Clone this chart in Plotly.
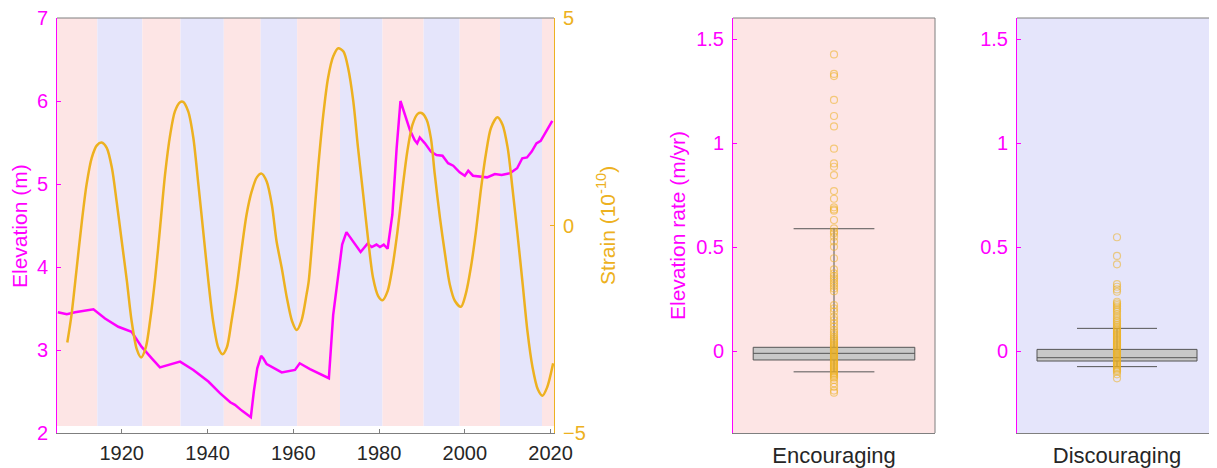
import plotly.graph_objects as go

# ---------------- data ----------------
elev_years = [1905.1, 1907.2, 1909.1, 1911.4, 1913.4, 1916.1, 1919.2, 1922.3, 1924.6, 1927.0,
              1928.9, 1933.6, 1936.7, 1940.2, 1942.9, 1945.3, 1946.4, 1948.0, 1950.1, 1950.8,
              1951.6, 1952.5, 1953.0, 1953.8, 1957.3, 1960.4, 1961.5, 1963.9, 1968.3, 1969.3,
              1970.5, 1971.4, 1972.4, 1974.0, 1975.7, 1977.3, 1978.3, 1979.4, 1980.2, 1981.1,
              1982.0, 1983.1, 1984.1, 1985.0, 1986.0, 1987.2, 1988.3, 1988.9, 1989.5, 1990.7,
              1992.1, 1993.4, 1994.8, 1996.1, 1997.3, 1998.8, 2000.0, 2000.8, 2001.9, 2003.5,
              2005.2, 2007.0, 2008.6, 2010.5, 2012.2, 2013.4, 2014.5, 2015.6, 2016.7, 2017.7,
              2019.0, 2020.4]
elev_m = [3.455, 3.43, 3.455, 3.47, 3.49, 3.38, 3.28, 3.22, 3.04, 2.90,
          2.79, 2.86, 2.76, 2.62, 2.48, 2.37, 2.34, 2.27, 2.19, 2.50,
          2.78, 2.93, 2.90, 2.83, 2.73, 2.76, 2.84, 2.77, 2.66, 3.42,
          3.92, 4.27, 4.42, 4.31, 4.18, 4.28, 4.24, 4.27, 4.24, 4.27,
          4.22, 4.63, 5.43, 6.00, 5.83, 5.65, 5.53, 5.49, 5.56, 5.49,
          5.39, 5.35, 5.34, 5.25, 5.22, 5.14, 5.10, 5.16, 5.10, 5.09,
          5.08, 5.12, 5.11, 5.13, 5.19, 5.31, 5.32, 5.39, 5.49, 5.52,
          5.63, 5.76]

strain_years = [1907.3, 1908.3, 1909.5, 1910.7, 1911.8, 1913.0, 1914.2, 1915.3, 1916.5, 1917.7,
                1918.8, 1920.0, 1921.2, 1922.3, 1923.5, 1924.5, 1925.6, 1926.6, 1927.8, 1929.0,
                1930.1, 1931.3, 1932.4, 1933.6, 1934.3, 1935.5, 1936.7, 1937.8, 1939.0, 1940.2,
                1941.3, 1942.5, 1943.5, 1944.5, 1945.6, 1946.8, 1948.0, 1949.1, 1950.3, 1951.5,
                1952.6, 1953.8, 1955.0, 1956.1, 1957.3, 1958.5, 1959.7, 1960.8, 1961.9, 1963.1,
                1963.6, 1964.6, 1965.8, 1967.0, 1968.1, 1969.3, 1970.5, 1971.7, 1972.8, 1974.0,
                1975.1, 1976.3, 1977.5, 1978.6, 1979.8, 1980.8, 1982.0, 1983.1, 1984.3, 1985.5,
                1986.6, 1987.8, 1989.0, 1989.9, 1991.1, 1992.1, 1993.0, 1994.2, 1995.4, 1996.5,
                1997.7, 1999.1, 2000.2, 2001.4, 2002.6, 2003.7, 2004.9, 2006.1, 2007.6, 2008.8,
                2010.0, 2011.1, 2012.3, 2013.5, 2014.6, 2015.8, 2017.0, 2018.1, 2019.2, 2020.6]
strain_vals = [-2.82, -2.14, -1.02, 0.10, 0.99, 1.63, 1.93, 2.00, 1.87, 1.39,
               0.58, -0.38, -1.34, -2.30, -2.98, -3.18, -2.94, -2.30, -1.26, 0.02,
               1.23, 2.19, 2.75, 2.97, 2.98, 2.75, 2.11, 1.06, -0.14, -1.34,
               -2.30, -2.94, -3.10, -2.94, -2.30, -1.50, -0.54, 0.26, 0.82, 1.16,
               1.25, 1.06, 0.50, -0.38, -1.02, -1.74, -2.30, -2.52, -2.30, -1.66,
               -1.34, -0.14, 1.39, 2.67, 3.55, 4.07, 4.27, 4.19, 3.79, 2.99,
               1.87, 0.75, -0.38, -1.26, -1.70, -1.80, -1.58, -1.02, -0.14, 0.91,
               1.79, 2.43, 2.69, 2.71, 2.55, 2.10, 1.23, 0.19, -0.70, -1.42,
               -1.82, -1.96, -1.66, -1.02, -0.14, 0.82, 1.71, 2.35, 2.61, 2.43,
               1.87, 0.91, -0.22, -1.42, -2.54, -3.42, -3.94, -4.10, -3.90, -3.32]

# alternating phase bands (pink = encouraging, blue = discouraging)
band_edges = [1904.9, 1914.3, 1924.8, 1933.7, 1943.8, 1952.4, 1960.9, 1970.9,
              1980.8, 1990.4, 1998.8, 2008.2, 2018.0, 2020.8]

year_ticks = [1920, 1940, 1960, 1980, 2000, 2020]
elev_ticks = [2, 3, 4, 5, 6, 7]
strain_ticks = [-5, 0, 5]
rate_ticks = [0, 0.5, 1, 1.5]
rate_tick_labels = ["0", "0.5", "1", "1.5"]

categories = ["Encouraging", "Discouraging"]
box_q1 = [-0.043, -0.048]
box_median = [-0.011, -0.032]
box_q3 = [0.018, 0.008]
box_lower = [-0.100, -0.075]
box_upper = [0.588, 0.109]

enc_rates = [1.426, 1.332, 1.322, 1.207, 1.130, 1.080, 0.973, 0.902, 0.886, 0.846,
             0.769, 0.732, 0.691, 0.681, 0.675, 0.630, 0.590, 0.574, 0.566, 0.550,
             0.526, 0.501, 0.446, 0.393, 0.373, 0.360, 0.349, 0.337, 0.325, 0.313,
             0.301, 0.288, 0.221, 0.205, 0.189, 0.165, 0.149, 0.133, 0.117, 0.101,
             0.090, 0.080, 0.070, 0.062, 0.055, 0.048, 0.041, 0.035, 0.028, 0.022,
             0.016, 0.010, 0.005, 0.000, -0.005, -0.010, -0.015, -0.020, -0.026, -0.032,
             -0.038, -0.044, -0.050, -0.056, -0.062, -0.068, -0.074, -0.080, -0.086, -0.092,
             -0.098, -0.104, -0.110, -0.116, -0.122, -0.128, -0.139, -0.155, -0.172, -0.190,
             -0.200]
dis_rates = [0.547, 0.457, 0.417, 0.322, 0.309, 0.296, 0.285, 0.237, 0.229, 0.221,
             0.213, 0.205, 0.197, 0.189, 0.178, 0.168, 0.158, 0.149, 0.141, 0.133,
             0.125, 0.117, 0.110, 0.104, 0.098, 0.092, 0.086, 0.080, 0.074, 0.068,
             0.062, 0.056, 0.050, 0.044, 0.038, 0.032, 0.026, 0.020, 0.014, 0.008,
             0.002, -0.004, -0.010, -0.016, -0.022, -0.028, -0.034, -0.040, -0.046, -0.052,
             -0.058, -0.064, -0.070, -0.076, -0.082, -0.088, -0.094, -0.099, -0.112, -0.131]

# ---------------- styling ----------------
OFF = 8                      # default page body margin
W, H = 1217 - OFF, 468 - OFF
MAG = "#FF00FF"
ORA = "#EDB120"
GRAY = "#7F7F7F"
TXT = "#262626"
PINK = "#FDE5E5"
BLUE = "#E5E5FB"
FONT = "Liberation Sans, Arial, Helvetica, sans-serif"


def fx(p):
    return (p - OFF) / W


def fy(p):
    return 1 - (p - OFF) / H


left_dom = [fx(57), fx(554)]
box1_dom = [fx(733), fx(935)]
box2_dom = [fx(1017), 1.0]
ydom = [fy(433), fy(18)]

fig = go.Figure()

fig.add_trace(go.Scatter(x=elev_years, y=elev_m, mode="lines",
                         line=dict(color=MAG, width=2.5),
                         xaxis="x", yaxis="y", showlegend=False))
fig.add_trace(go.Scatter(x=strain_years, y=strain_vals, mode="lines",
                         line=dict(color=ORA, width=2.5, shape="spline", smoothing=0.8),
                         xaxis="x", yaxis="y2", showlegend=False))

for i, (xa, ya, pts) in enumerate([("x2", "y3", enc_rates), ("x3", "y4", dis_rates)]):
    fig.add_trace(go.Box(x=[0], q1=[box_q1[i]], median=[box_median[i]], q3=[box_q3[i]],
                         lowerfence=[box_lower[i]], upperfence=[box_upper[i]],
                         width=0.8, whiskerwidth=0.5, boxpoints=False,
                         fillcolor="#C8C8C8", line=dict(color="#555555", width=1),
                         xaxis=xa, yaxis=ya, showlegend=False, name=categories[i]))
    fig.add_trace(go.Scatter(x=[0] * len(pts), y=pts, mode="markers",
                             marker=dict(symbol="circle-open", size=7,
                                         color="rgba(237,177,32,0.55)",
                                         line=dict(width=1.2)),
                             xaxis=xa, yaxis=ya, showlegend=False))

shapes = []
for i in range(len(band_edges) - 1):
    shapes.append(dict(type="rect", xref="x", yref="y",
                       x0=band_edges[i], x1=band_edges[i + 1], y0=2.085, y1=7,
                       fillcolor=PINK if i % 2 == 0 else BLUE,
                       line=dict(width=0), layer="below"))
shapes.append(dict(type="rect", xref="x2 domain", yref="y3 domain", x0=0, x1=1, y0=0, y1=1,
                   fillcolor=PINK, line=dict(width=0), layer="below"))
shapes.append(dict(type="rect", xref="x3 domain", yref="y4 domain", x0=0, x1=1, y0=0, y1=1,
                   fillcolor=BLUE, line=dict(width=0), layer="below"))
# frame lines
shapes.append(dict(type="line", xref="x domain", yref="y domain", x0=0, x1=1, y0=1, y1=1,
                   line=dict(color=GRAY, width=1)))
shapes.append(dict(type="line", xref="x2 domain", yref="y3 domain", x0=0, x1=1, y0=1, y1=1,
                   line=dict(color=GRAY, width=1)))
shapes.append(dict(type="line", xref="x2 domain", yref="y3 domain", x0=1, x1=1, y0=0, y1=1,
                   line=dict(color=GRAY, width=1)))
shapes.append(dict(type="line", xref="x3 domain", yref="y4 domain", x0=0, x1=1, y0=1, y1=1,
                   line=dict(color=GRAY, width=1)))

common_y = dict(showgrid=False, zeroline=False, showline=True, ticks="inside", ticklen=4,
                ticklabelstandoff=4, automargin=False, ticklabeloverflow="allow")
common_x = dict(showgrid=False, zeroline=False, showline=True, linecolor=GRAY,
                automargin=False, ticklabeloverflow="allow")

fig.update_layout(
    width=W, height=H,
    margin=dict(l=0, r=0, t=0, b=0, pad=0, autoexpand=False),
    paper_bgcolor="white", plot_bgcolor="rgba(0,0,0,0)",
    font=dict(family=FONT, size=20, color=TXT),
    shapes=shapes,
    xaxis=dict(domain=left_dom, anchor="y", range=[band_edges[0], band_edges[-1]],
               tickvals=year_ticks, ticks="inside", ticklen=4, tickcolor=GRAY,
               tickfont=dict(size=20, color=TXT), ticklabelstandoff=2, **common_x),
    yaxis=dict(domain=ydom, anchor="x", range=[2, 7], tickvals=elev_ticks,
               linecolor=MAG, tickcolor=MAG, tickfont=dict(size=20, color=MAG), **common_y),
    yaxis2=dict(domain=ydom, anchor="x", overlaying="y", side="right", range=[-5, 5],
                tickvals=strain_ticks, linecolor=ORA, tickcolor=ORA,
                tickfont=dict(size=20, color=ORA), **common_y),
    xaxis2=dict(domain=box1_dom, anchor="y3", range=[-0.5, 0.5], tickvals=[0],
                ticktext=[categories[0]], ticks="", tickfont=dict(size=22, color=TXT),
                ticklabelstandoff=3, **common_x),
    yaxis3=dict(domain=ydom, anchor="x2", range=[-0.394, 1.601], tickvals=rate_ticks,
                ticktext=rate_tick_labels, linecolor=MAG, tickcolor=MAG,
                tickfont=dict(size=20, color=MAG), **common_y),
    xaxis3=dict(domain=box2_dom, anchor="y4", range=[-0.5, 0.5], tickvals=[0],
                ticktext=[categories[1]], ticks="", tickfont=dict(size=22, color=TXT),
                ticklabelstandoff=3, **common_x),
    yaxis4=dict(domain=ydom, anchor="x3", range=[-0.394, 1.601], tickvals=rate_ticks,
                ticktext=rate_tick_labels, linecolor=MAG, tickcolor=MAG,
                tickfont=dict(size=20, color=MAG), **common_y),
    annotations=[
        dict(text="Elevation (m)", xref="paper", yref="paper", x=fx(20), y=fy(226),
             textangle=-90, showarrow=False, font=dict(size=21, color=MAG),
             xanchor="center", yanchor="middle"),
        dict(text="Strain (10<sup>-10</sup>)", xref="paper", yref="paper", x=fx(606), y=fy(226),
             textangle=-90, showarrow=False, font=dict(size=21, color=ORA),
             xanchor="center", yanchor="middle"),
        dict(text="Elevation rate (m/yr)", xref="paper", yref="paper", x=fx(678), y=fy(226),
             textangle=-90, showarrow=False, font=dict(size=21, color=MAG),
             xanchor="center", yanchor="middle"),
    ],
)

fig.write_html("out.html", config={"displayModeBar": False})
